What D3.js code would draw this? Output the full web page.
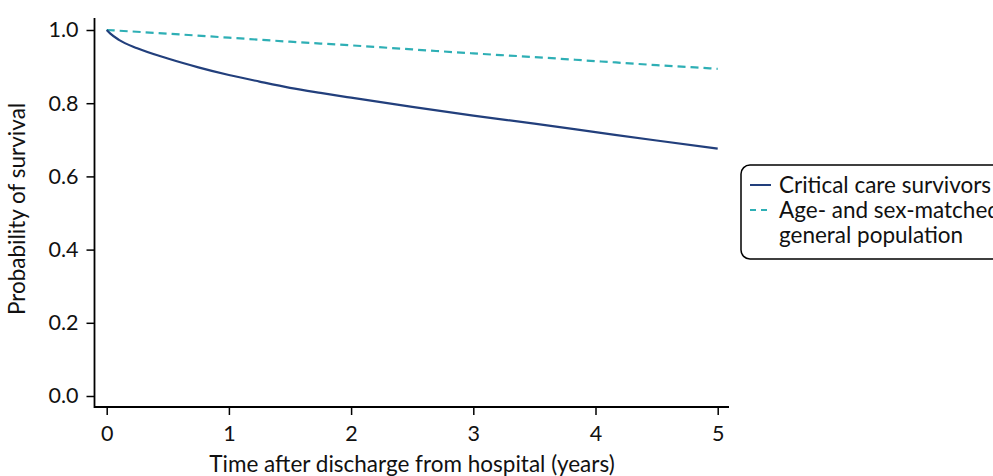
<!DOCTYPE html>
<html>
<head>
<meta charset="utf-8">
<script src="https://cdn.jsdelivr.net/npm/d3@7"></script>
<style>
  html, body { margin: 0; padding: 0; background: #fff; }
  svg { display: block; font-family: Lato, "Open Sans", sans-serif; }
</style>
</head>
<body>
<svg id="chart" width="993" height="476"></svg>
<script>
// ---- data ----
const timesCritical = [0, 0.03, 0.1, 0.25, 0.5, 0.75, 1, 1.25, 1.5, 1.75, 2, 2.5, 3, 3.5, 4, 4.5, 5];
const survivalCritical = [1.0, 0.99, 0.973, 0.95, 0.922, 0.898, 0.877, 0.859, 0.842, 0.828, 0.815, 0.790, 0.766, 0.744, 0.721, 0.698, 0.676];
const timesGeneral = [0, 0.5, 1, 1.5, 2, 2.5, 3, 3.5, 4, 4.5, 5];
const survivalGeneral = [1.0, 0.990, 0.979, 0.968, 0.958, 0.947, 0.936, 0.926, 0.915, 0.904, 0.894];
const xTicks = [0, 1, 2, 3, 4, 5];
const yTicks = [0, 0.2, 0.4, 0.6, 0.8, 1.0];
const legendLines = [["Critical care survivors"], ["Age- and sex-matched", "general population"]];
const xTitle = "Time after discharge from hospital (years)";
const yTitle = "Probability of survival";

// ---- layout ----
const colCritical = "#223f7c";
const colGeneral = "#2eafb5";
const svg = d3.select("#chart");
const x = d3.scaleLinear().domain([0, 5]).range([106.7, 717.7]);
const y = d3.scaleLinear().domain([0, 1]).range([396, 30]);
const axisLeftX = 94.5, axisBottomY = 407;

// axes
const gy = svg.append("g").attr("transform", `translate(${axisLeftX},0)`)
  .call(d3.axisLeft(y).tickValues(yTicks).tickFormat(d3.format(".1f")).tickSize(8).tickPadding(8));
const gx = svg.append("g").attr("transform", `translate(0,${axisBottomY})`)
  .call(d3.axisBottom(x).tickValues(xTicks).tickFormat(d3.format("d")).tickSize(8).tickPadding(11));
[gx, gy].forEach(g => {
  g.select(".domain").remove();
  g.selectAll("line").attr("stroke", "#000").attr("stroke-width", 1.5);
  g.selectAll("text").attr("fill", "#111").style("font-size", "21.5px").style("font-family", "Lato, sans-serif");
});
svg.append("path")
  .attr("d", `M${axisLeftX},18 V${axisBottomY} H729`)
  .attr("fill", "none").attr("stroke", "#000").attr("stroke-width", 1.8);

// titles
svg.append("text").attr("x", 412).attr("y", 472).attr("text-anchor", "middle")
  .style("font-size", "22.5px").attr("fill", "#111").text(xTitle);
svg.append("text").attr("transform", "translate(25,209) rotate(-90)").attr("text-anchor", "middle")
  .style("font-size", "22.5px").attr("fill", "#111").text(yTitle);

// lines
const line = d3.line().x(d => x(d[0])).y(d => y(d[1])).curve(d3.curveMonotoneX);
svg.append("path").datum(timesGeneral.map((t, i) => [t, survivalGeneral[i]]))
  .attr("d", line).attr("fill", "none").attr("stroke", colGeneral)
  .attr("stroke-width", 2.2).attr("stroke-dasharray", "8,5");
svg.append("path").datum(timesCritical.map((t, i) => [t, survivalCritical[i]]))
  .attr("d", line).attr("fill", "none").attr("stroke", colCritical)
  .attr("stroke-width", 2.2);

// legend
const lg = svg.append("g");
lg.append("rect").attr("x", 741).attr("y", 165).attr("width", 280).attr("height", 94)
  .attr("rx", 9).attr("fill", "#fff").attr("stroke", "#000").attr("stroke-width", 1.5);
const rowY = [185, 210];
[colCritical, colGeneral].forEach((c, i) => {
  lg.append("line").attr("x1", 750).attr("x2", 771).attr("y1", rowY[i]).attr("y2", rowY[i])
    .attr("stroke", c).attr("stroke-width", 2)
    .attr("stroke-dasharray", i === 1 ? "6,5" : null);
  legendLines[i].forEach((s, j) => {
    lg.append("text").attr("x", 779).attr("y", rowY[i] + j * 25).attr("dy", "0.35em")
      .style("font-size", "22.5px").attr("fill", "#111").text(s);
  });
});
</script>
</body>
</html>
